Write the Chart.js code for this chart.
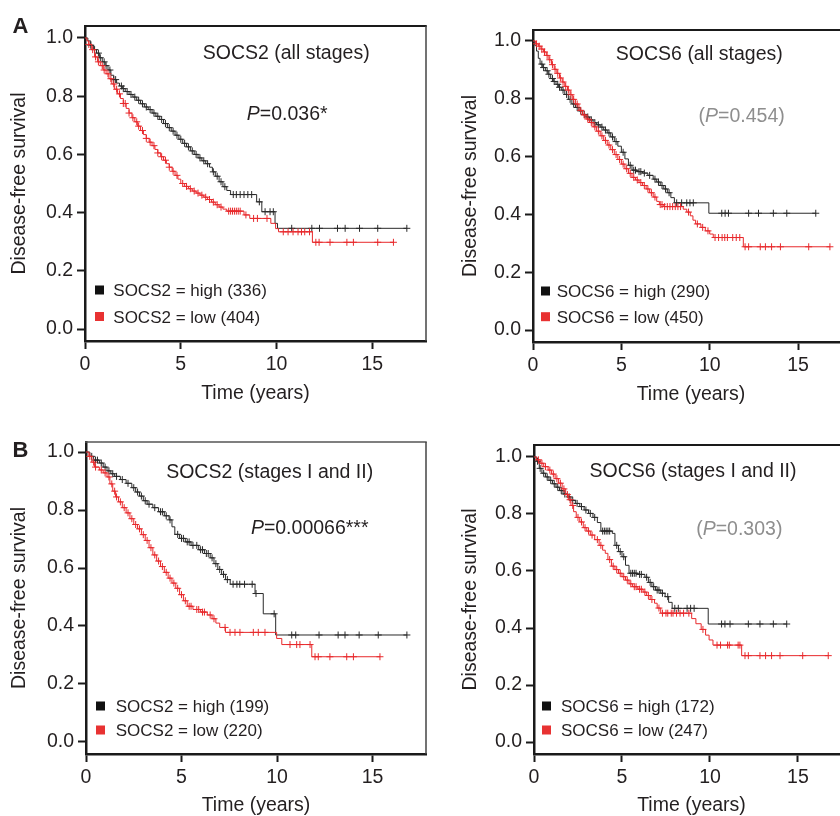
<!DOCTYPE html>
<html>
<head>
<meta charset="utf-8">
<script src="https://cdn.jsdelivr.net/npm/chart.js@4.4.1/dist/chart.umd.min.js"></script>
<style>
html,body{margin:0;padding:0;background:#fff;}
#wrap{position:relative;width:840px;height:816px;overflow:hidden;background:#fff;}
#wrap canvas{position:absolute;}
</style>
</head>
<body>
<div id="wrap">
<canvas id="c0"></canvas><canvas id="c1"></canvas><canvas id="c2"></canvas><canvas id="c3"></canvas>
</div>
<script>
// ===================== DATA =====================
const yTickValues = [0, 0.2, 0.4, 0.6, 0.8, 1.0];
const xTickValues = [0, 5, 10, 15];

const panelTitles = ["SOCS2 (all stages)", "SOCS6 (all stages)", "SOCS2 (stages I and II)", "SOCS6 (stages I and II)"];
const geneNames = ["SOCS2", "SOCS6", "SOCS2", "SOCS6"];
const pValues = ["0.036", "0.454", "0.00066", "0.303"];
const pStars = ["*", "", "***", ""];
const pSignificant = [true, false, true, false];
const nHigh = [336, 290, 199, 172];
const nLow = [404, 450, 220, 247];

// Panel A, SOCS2 (all stages)
const aSocs2HighT = [0,0.15,0.3,0.45,0.6,0.75,0.9,1.05,1.2,1.35,1.5,1.65,1.8,1.95,2.1,2.3,2.5,2.7,2.9,3.1,3.3,3.5,3.7,3.9,4.1,4.3,4.5,4.7,4.9,5.1,5.3,5.5,5.7,5.9,6.1,6.3,6.5,6.65,6.8,7.0,7.2,7.4,7.6,8.96,9.23,9.92,10.05];
const aSocs2HighS = [1.0,0.99,0.975,0.96,0.948,0.932,0.918,0.905,0.89,0.872,0.857,0.845,0.835,0.826,0.816,0.806,0.797,0.786,0.774,0.763,0.754,0.742,0.731,0.72,0.706,0.692,0.68,0.666,0.652,0.638,0.626,0.612,0.6,0.588,0.578,0.568,0.556,0.54,0.525,0.506,0.489,0.476,0.462,0.437,0.403,0.363,0.346];
const aSocs2HighCensor = [0.3,0.5,0.7,0.8,1.0,1.1,1.3,1.5,1.6,1.9,2.0,2.2,2.4,2.6,2.8,3.0,3.2,3.4,3.6,3.8,4.0,4.2,4.4,4.6,4.8,5.0,5.2,5.4,5.6,5.8,6.0,6.2,6.4,6.7,6.9,7.1,7.3,7.74,7.9,8.1,8.3,8.5,8.7,9.1,9.4,9.66,9.83,10.79,11.84,12.24,13.18,13.58,14.33,15.28,16.8];
const aSocs2LowT = [0,0.1,0.2,0.35,0.5,0.65,0.8,0.95,1.1,1.25,1.4,1.55,1.7,1.85,2.0,2.15,2.3,2.45,2.6,2.75,2.9,3.05,3.2,3.35,3.5,3.65,3.8,3.95,4.1,4.25,4.4,4.55,4.7,4.85,5.0,5.2,5.4,5.6,5.8,6.0,6.2,6.4,6.6,6.8,7.0,7.2,7.4,8.3,8.6,9.7,9.95,10.1,11.87];
const aSocs2LowS = [1.0,0.99,0.978,0.96,0.935,0.918,0.905,0.89,0.877,0.86,0.842,0.824,0.808,0.792,0.775,0.758,0.742,0.726,0.712,0.697,0.682,0.668,0.655,0.642,0.63,0.617,0.605,0.592,0.58,0.568,0.556,0.542,0.528,0.515,0.5,0.49,0.482,0.474,0.467,0.46,0.453,0.445,0.436,0.427,0.419,0.412,0.405,0.392,0.38,0.363,0.345,0.334,0.298];
const aSocs2LowCensor = [0.2,0.4,0.55,0.7,0.9,1.0,1.2,1.35,1.5,1.65,1.8,2.0,2.1,2.3,2.5,2.7,2.8,3.0,3.2,3.4,3.6,3.8,4.0,4.2,4.4,4.6,4.8,5.1,5.3,5.5,5.7,5.9,6.1,6.3,6.5,6.7,6.9,7.1,7.5,7.6,7.7,7.8,7.9,8.0,8.1,8.4,8.8,9.0,9.5,10.35,10.6,10.86,11.12,11.3,11.47,11.72,12.05,12.22,12.79,13.67,14.01,15.28,16.1];

// Panel A, SOCS6 (all stages)
const aSocs6HighT = [0,0.1,0.2,0.3,0.4,0.55,0.7,0.85,1.0,1.15,1.3,1.45,1.6,1.8,2.0,2.2,2.4,2.6,2.8,3.0,3.2,3.4,3.6,3.8,4.0,4.2,4.4,4.6,4.8,5.0,5.2,5.4,5.6,5.9,6.2,6.5,6.8,7.0,7.2,7.4,7.6,7.8,8.0,9.95];
const aSocs6HighS = [1.0,0.985,0.965,0.94,0.92,0.908,0.897,0.885,0.87,0.86,0.85,0.84,0.83,0.815,0.798,0.782,0.77,0.758,0.746,0.737,0.727,0.717,0.71,0.702,0.692,0.682,0.668,0.652,0.636,0.615,0.592,0.57,0.553,0.548,0.543,0.535,0.522,0.512,0.5,0.488,0.475,0.458,0.44,0.404];
const aSocs6HighCensor = [0.5,0.6,0.8,0.9,1.1,1.2,1.4,1.5,1.7,1.9,2.1,2.3,2.5,2.7,2.9,3.1,3.3,3.5,3.7,3.9,4.1,4.3,4.5,4.7,5.1,5.5,5.7,5.8,6.0,6.1,6.3,6.6,6.9,7.1,7.3,7.5,7.7,8.13,8.41,8.7,8.88,9.07,10.68,10.87,11.06,12.2,12.76,13.6,14.36,16.0];
const aSocs6LowT = [0,0.15,0.3,0.45,0.6,0.75,0.9,1.05,1.2,1.35,1.5,1.65,1.8,1.95,2.1,2.25,2.4,2.6,2.8,3.0,3.2,3.4,3.6,3.8,4.0,4.2,4.4,4.6,4.8,5.0,5.2,5.4,5.6,5.8,6.0,6.2,6.4,6.6,6.8,7.0,7.15,7.4,8.5,8.7,8.9,9.05,9.2,9.5,9.75,10.0,10.2,11.9];
const aSocs6LowS = [1.0,0.99,0.982,0.972,0.962,0.95,0.935,0.918,0.902,0.888,0.872,0.858,0.843,0.83,0.814,0.798,0.782,0.76,0.744,0.73,0.718,0.703,0.688,0.672,0.656,0.64,0.624,0.607,0.59,0.574,0.558,0.542,0.528,0.519,0.51,0.5,0.488,0.475,0.46,0.445,0.434,0.427,0.418,0.408,0.395,0.38,0.367,0.355,0.343,0.332,0.32,0.288];
const aSocs6LowCensor = [0.2,0.35,0.5,0.65,0.8,0.95,1.1,1.25,1.4,1.55,1.7,1.85,2.0,2.15,2.3,2.5,2.7,2.9,3.1,3.3,3.5,3.7,3.9,4.1,4.3,4.5,4.7,4.9,5.1,5.3,5.5,5.7,5.9,6.1,6.3,6.5,6.7,6.9,7.2,7.3,7.45,7.6,7.75,7.9,8.05,8.2,8.35,8.8,9.3,9.6,9.9,10.3,10.5,10.7,10.85,11.0,11.3,11.5,11.7,12.0,12.2,12.86,13.15,13.5,14.0,15.6,16.8];

// Panel B, SOCS2 (stages I and II)
const bSocs2HighT = [0,0.2,0.4,0.7,0.9,1.1,1.3,1.5,1.8,2.1,2.4,2.6,2.8,3.0,3.2,3.5,3.8,4.1,4.35,4.5,4.65,4.9,5.2,5.5,5.9,6.2,6.5,6.7,6.9,7.1,7.3,7.55,8.85,9.28,9.93];
const bSocs2HighS = [1.0,0.985,0.972,0.962,0.948,0.935,0.925,0.916,0.905,0.892,0.877,0.862,0.848,0.832,0.82,0.808,0.794,0.78,0.766,0.742,0.716,0.702,0.69,0.678,0.663,0.65,0.635,0.615,0.595,0.578,0.56,0.544,0.512,0.442,0.369];
const bSocs2HighCensor = [0.3,0.5,0.6,0.8,1.0,1.2,1.4,1.6,1.9,2.2,2.5,2.7,2.9,3.1,3.3,3.6,3.9,4.0,4.2,4.4,4.8,5.0,5.1,5.3,5.4,5.6,5.8,6.0,6.1,6.3,6.4,6.6,6.8,7.0,7.2,7.4,7.7,7.9,8.05,8.3,8.7,8.9,9.85,10.77,10.98,12.2,13.2,13.56,14.3,15.3,16.8];
const bSocs2LowT = [0,0.15,0.3,0.45,0.7,0.9,1.1,1.25,1.4,1.55,1.7,1.9,2.1,2.3,2.5,2.7,2.9,3.1,3.3,3.5,3.7,3.9,4.1,4.3,4.5,4.7,4.9,5.1,5.3,5.6,6.0,6.35,6.6,6.8,7.0,7.3,9.98,10.25,11.82];
const bSocs2LowS = [1.0,0.985,0.965,0.948,0.938,0.928,0.914,0.89,0.865,0.845,0.828,0.808,0.79,0.77,0.75,0.735,0.715,0.695,0.67,0.645,0.624,0.605,0.585,0.565,0.548,0.53,0.508,0.487,0.468,0.457,0.448,0.438,0.425,0.41,0.395,0.378,0.357,0.336,0.294];
const bSocs2LowCensor = [0.2,0.4,0.5,0.8,1.0,1.2,1.35,1.5,1.6,1.8,2.0,2.2,2.4,2.6,2.8,3.0,3.2,3.4,3.6,3.8,4.0,4.2,4.4,4.6,4.8,5.0,5.2,5.4,5.5,5.8,5.9,6.1,6.2,6.5,6.7,7.28,7.54,7.8,8.06,8.76,9.02,9.37,10.68,11.03,11.2,11.73,11.99,12.16,12.77,13.65,14.0,15.39];

// Panel B, SOCS6 (stages I and II)
const bSocs6HighT = [0,0.15,0.3,0.45,0.65,0.85,1.05,1.25,1.45,1.65,1.9,2.1,2.35,2.6,2.85,3.1,3.35,3.6,3.8,4.45,4.6,4.8,5.0,5.2,5.4,5.9,6.3,6.5,6.7,6.9,7.2,7.45,7.65,7.85,9.9];
const bSocs6HighS = [1.0,0.985,0.96,0.943,0.93,0.918,0.906,0.894,0.882,0.87,0.86,0.848,0.837,0.826,0.814,0.802,0.788,0.77,0.74,0.732,0.69,0.668,0.65,0.62,0.592,0.588,0.578,0.56,0.545,0.533,0.522,0.51,0.49,0.469,0.414];
const bSocs6HighCensor = [0.2,0.35,0.55,0.75,0.95,1.15,1.35,1.55,1.75,2.0,2.2,2.45,2.7,2.95,3.2,3.45,3.9,4.0,4.1,4.2,4.3,4.7,4.9,5.1,5.5,5.6,5.7,5.8,6.0,6.1,6.4,6.6,6.8,7.0,7.1,7.3,7.6,8.0,8.2,8.7,8.9,9.1,10.66,10.85,11.14,12.18,12.84,13.6,14.36];
const bSocs6LowT = [0,0.15,0.35,0.55,0.8,1.0,1.2,1.4,1.6,1.8,1.95,2.1,2.25,2.4,2.6,2.8,3.0,3.2,3.45,3.7,3.9,4.05,4.2,4.4,4.6,4.8,5.0,5.2,5.4,5.6,5.9,6.2,6.4,6.6,6.85,7.0,7.2,8.96,9.2,9.5,9.75,9.95,10.17,11.8];
const bSocs6LowS = [1.0,0.99,0.978,0.966,0.954,0.94,0.924,0.908,0.888,0.868,0.85,0.83,0.808,0.788,0.772,0.752,0.74,0.726,0.71,0.69,0.673,0.662,0.64,0.617,0.605,0.592,0.58,0.568,0.555,0.545,0.536,0.526,0.514,0.5,0.487,0.47,0.452,0.433,0.415,0.395,0.375,0.358,0.34,0.303];
const bSocs6LowCensor = [0.25,0.45,0.65,0.9,1.1,1.3,1.5,1.7,1.9,2.05,2.2,2.5,2.7,2.9,3.1,3.3,3.6,3.8,4.3,4.5,4.7,4.9,5.1,5.3,5.5,5.7,5.8,6.0,6.1,6.3,6.5,6.7,7.1,7.3,7.5,7.6,7.8,7.9,8.1,8.3,8.5,8.8,9.6,10.4,10.6,11.0,11.1,11.6,11.7,11.99,12.18,12.84,13.16,13.5,13.98,15.27,16.72];

// ===================== STYLE / LAYOUT =====================
const FONT = "'Liberation Sans', Arial, Helvetica, sans-serif";
const TEXT = '#231f20';
const GRAY = '#8e8e8e';
const AXIS = '#1a1a1a';
const HIGH_COLOR = '#2a2a2a';
const LOW_COLOR = '#e8292c';
const HIGH_SQ = '#111111';
const LOW_SQ = '#e83232';

const layouts = [
  { left:0,   top:0,   w:440, h:410, padTop:26, padRight:14, yW:85, xH:69, xMax:17.8, yMin:-0.0412, yMax:1.0412,
    yTitlePad:8.3, xTitlePad:4.3, topW:2, topColor:AXIS, rightBorder:true,
    titleX:286.2, titleY:59, pX:287.2, pY:120, sqX:95, txX:113.3, legBase:[296,322.5], letter:'A', letterX:12.5, letterY:33 },
  { left:448, top:0,   w:411, h:411, padTop:30, padRight:10, yW:85, xH:69, xMax:17.88, yMin:-0.0415, yMax:1.038,
    yTitlePad:11.3, xTitlePad:4.8, topW:2, topColor:AXIS, rightBorder:false,
    titleX:699.3, titleY:60, pX:741.7, pY:121.5, sqX:541, txX:556.7, legBase:[297,322.7], letter:'', letterX:0, letterY:0 },
  { left:0,   top:416, w:440, h:407, padTop:26, padRight:14, yW:86, xH:69, xMax:17.8, yMin:-0.0414, yMax:1.0345,
    yTitlePad:8.3, xTitlePad:6.1, topW:1.5, topColor:'#555555', rightBorder:true,
    titleX:269.7, titleY:478, pX:309.7, pY:534, sqX:96, txX:115.7, legBase:[712,736], letter:'B', letterX:12.5, letterY:457 },
  { left:449, top:416, w:410, h:407, padTop:29, padRight:10, yW:85, xH:69, xMax:17.9, yMin:-0.042, yMax:1.042,
    yTitlePad:10.3, xTitlePad:6.1, topW:2, topColor:AXIS, rightBorder:false,
    titleX:693, titleY:477, pX:739.3, pY:535, sqX:542, txX:561, legBase:[712,736], letter:'', letterX:0, letterY:0 }
];

const curves = [
  { hT:aSocs2HighT, hS:aSocs2HighS, hC:aSocs2HighCensor, lT:aSocs2LowT, lS:aSocs2LowS, lC:aSocs2LowCensor },
  { hT:aSocs6HighT, hS:aSocs6HighS, hC:aSocs6HighCensor, lT:aSocs6LowT, lS:aSocs6LowS, lC:aSocs6LowCensor },
  { hT:bSocs2HighT, hS:bSocs2HighS, hC:bSocs2HighCensor, lT:bSocs2LowT, lS:bSocs2LowS, lC:bSocs2LowCensor },
  { hT:bSocs6HighT, hS:bSocs6HighS, hC:bSocs6HighCensor, lT:bSocs6LowT, lS:bSocs6LowS, lC:bSocs6LowCensor }
];

// ===================== HELPERS =====================
function survAt(T, S, t) {
  let s = S[0];
  for (let i = 0; i < T.length; i++) { if (T[i] <= t) s = S[i]; else break; }
  return s;
}

function kmDatasets(T, S, C, color, label) {
  const line = T.map((t, i) => ({ x: t, y: S[i] }));
  const tEnd = Math.max(...C);
  if (tEnd > T[T.length - 1]) line.push({ x: tEnd, y: S[S.length - 1] });
  const marks = C.map(t => ({ x: t, y: survAt(T, S, t) }));
  return [
    { label: label, data: line, showLine: true, stepped: 'before', borderColor: color, borderWidth: 1,
      pointRadius: 0, pointHoverRadius: 0, fill: false },
    { label: label + ' (censored)', data: marks, showLine: false, pointStyle: 'cross', pointRadius: 3.5,
      pointBorderColor: color, pointBackgroundColor: color, pointBorderWidth: 1, pointHoverRadius: 0 }
  ];
}

const decorPlugin = {
  id: 'decor',
  afterDraw(chart, args, o) {
    const ctx = chart.ctx, ca = chart.chartArea;
    const ox = o.offX, oy = o.offY;
    ctx.save();
    // top border
    ctx.strokeStyle = o.topColor; ctx.lineWidth = o.topW;
    ctx.beginPath(); ctx.moveTo(ca.left - 1, ca.top); ctx.lineTo(ca.right + (o.rightBorder ? 0.75 : 0), ca.top); ctx.stroke();
    if (o.rightBorder) {
      ctx.strokeStyle = '#444444'; ctx.lineWidth = 1.5;
      ctx.beginPath(); ctx.moveTo(ca.right, ca.top); ctx.lineTo(ca.right, ca.bottom); ctx.stroke();
    }
    ctx.textBaseline = 'alphabetic';
    // panel title
    ctx.fillStyle = TEXT; ctx.textAlign = 'center';
    ctx.font = '19.5px ' + FONT;
    ctx.fillText(o.title, o.titleX - ox, o.titleY - oy);
    // p-value
    const parts = [];
    const col = o.sig ? TEXT : GRAY;
    if (!o.sig) parts.push({ t: '(', f: '19.5px ' + FONT });
    parts.push({ t: 'P', f: 'italic 19.5px ' + FONT });
    parts.push({ t: '=' + o.p + o.stars, f: '19.5px ' + FONT });
    if (!o.sig) parts.push({ t: ')', f: '19.5px ' + FONT });
    let total = 0;
    parts.forEach(pt => { ctx.font = pt.f; pt.w = ctx.measureText(pt.t).width; total += pt.w; });
    let x = o.pX - ox - total / 2;
    ctx.textAlign = 'left'; ctx.fillStyle = col;
    parts.forEach(pt => { ctx.font = pt.f; ctx.fillText(pt.t, x, o.pY - oy); x += pt.w; });
    // legend
    ctx.font = '17px ' + FONT;
    o.legend.forEach((it, i) => {
      const by = o.legBase[i] - oy;
      ctx.fillStyle = it.sq;
      ctx.fillRect(o.sqX - ox, by - 6 - 4.5, 9, 9);
      ctx.fillStyle = TEXT;
      ctx.fillText(it.text, o.txX - ox, by);
    });
    // panel letter
    if (o.letter) {
      ctx.fillStyle = TEXT;
      ctx.font = 'bold 22px ' + FONT;
      ctx.fillText(o.letter, o.letterX - ox, o.letterY - oy);
    }
    ctx.restore();
  }
};

Chart.defaults.font.family = FONT;
Chart.defaults.color = TEXT;

layouts.forEach((L, k) => {
  const cv = document.getElementById('c' + k);
  cv.width = L.w; cv.height = L.h;
  cv.style.left = L.left + 'px'; cv.style.top = L.top + 'px';
  cv.style.width = L.w + 'px'; cv.style.height = L.h + 'px';
  const c = curves[k];
  const gene = geneNames[k];
  const datasets = [
    ...kmDatasets(c.lT, c.lS, c.lC, LOW_COLOR, gene + ' = low (' + nLow[k] + ')'),
    ...kmDatasets(c.hT, c.hS, c.hC, HIGH_COLOR, gene + ' = high (' + nHigh[k] + ')')
  ];
  new Chart(cv, {
    type: 'scatter',
    data: { datasets },
    plugins: [decorPlugin],
    options: {
      responsive: false,
      animation: false,
      events: [],
      layout: { padding: { top: L.padTop, right: L.padRight, left: 0, bottom: 0 } },
      plugins: {
        legend: { display: false },
        tooltip: { enabled: false },
        decor: {
          offX: L.left, offY: L.top, topW: L.topW, topColor: L.topColor, rightBorder: L.rightBorder,
          title: panelTitles[k], titleX: L.titleX, titleY: L.titleY,
          p: pValues[k], stars: pStars[k], sig: pSignificant[k], pX: L.pX, pY: L.pY,
          sqX: L.sqX, txX: L.txX, legBase: L.legBase,
          legend: [
            { text: gene + ' = high (' + nHigh[k] + ')', sq: HIGH_SQ },
            { text: gene + ' = low (' + nLow[k] + ')', sq: LOW_SQ }
          ],
          letter: L.letter, letterX: L.letterX, letterY: L.letterY
        }
      },
      scales: {
        x: {
          type: 'linear', min: 0, max: L.xMax,
          afterBuildTicks: s => { s.ticks = xTickValues.map(v => ({ value: v })); },
          afterFit: s => { s.height = L.xH; },
          ticks: { callback: v => String(v), color: TEXT, font: { size: 19.5 }, padding: 4, maxRotation: 0, autoSkip: false },
          grid: { display: true, drawOnChartArea: false, drawTicks: true, tickLength: 8, tickWidth: 2, tickColor: AXIS, color: AXIS },
          border: { display: true, width: 2.5, color: AXIS },
          title: { display: true, text: 'Time (years)', color: TEXT, font: { size: 19.5 }, padding: { top: 0, bottom: L.xTitlePad } }
        },
        y: {
          type: 'linear', min: L.yMin, max: L.yMax,
          afterBuildTicks: s => { s.ticks = yTickValues.map(v => ({ value: v })); },
          afterFit: s => { s.width = L.yW; },
          ticks: { callback: v => Number(v).toFixed(1), color: TEXT, font: { size: 19.5 }, padding: 4, autoSkip: false },
          grid: { display: true, drawOnChartArea: false, drawTicks: true, tickLength: 8, tickWidth: 2, tickColor: AXIS, color: AXIS },
          border: { display: true, width: 2.5, color: AXIS },
          title: { display: true, text: 'Disease-free survival', color: TEXT, font: { size: 19.5 }, padding: { top: L.yTitlePad, bottom: 0 } }
        }
      }
    }
  });
});
</script>
</body>
</html>
